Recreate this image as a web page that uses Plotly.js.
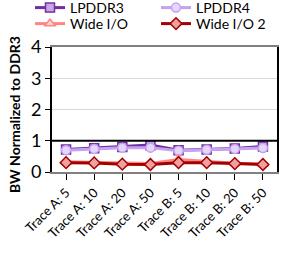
<!DOCTYPE html>
<html><head><meta charset="utf-8">
<script src="https://cdn.plot.ly/plotly-3.0.1.min.js"></script>
<style>html,body{margin:0;padding:0;background:#fff;}#c{width:281px;height:269px;}</style>
</head><body><div id="c"></div>
<script>
const categories = ["Trace A: 5","Trace A: 10","Trace A: 20","Trace A: 50","Trace B: 5","Trace B: 10","Trace B: 20","Trace B: 50"];
const lpddr3 = [0.72, 0.76, 0.80, 0.86, 0.70, 0.72, 0.75, 0.82];
const lpddr4 = [0.70, 0.74, 0.78, 0.78, 0.68, 0.71, 0.74, 0.77];
const wideIO = [0.33, 0.31, 0.27, 0.27, 0.40, 0.33, 0.28, 0.26];
const wideIO2 = [0.30, 0.29, 0.25, 0.24, 0.30, 0.30, 0.27, 0.24];
const yTicks = [0, 1, 2, 3, 4];
const refLevel = 1;
const yTitle = 'BW Normalized to DDR3';

const F = "Lato, 'Liberation Sans', sans-serif";
function tr(name, y, color, fill, sym, leg){
  return {type:'scatter', mode:'lines+markers', name:name, x:categories, y:y, legend:leg,
    line:{color:color, width:3},
    marker:{symbol:sym, size:9, color:fill, line:{color:color, width:1.5}}};
}
const data = [
  tr('LPDDR3', lpddr3, '#7030A0', '#C9A6E6', 'square', 'legend'),
  tr('LPDDR4', lpddr4, '#C6A0F2', '#E6D6FA', 'circle', 'legend2'),
  tr('Wide I/O', wideIO, '#FF8585', '#FFD0D0', 'triangle-up', 'legend3'),
  tr('Wide I/O 2', wideIO2, '#A50000', '#F0A0A0', 'diamond', 'legend4')
];
const legBase = {xref:'container', yref:'container', xanchor:'left', yanchor:'middle',
  font:{size:14, family:F}, tracegroupgap:0, bgcolor:'rgba(0,0,0,0)', borderwidth:0};
const L = (x, yc) => Object.assign({}, legBase, {x:x/281, y:1 - yc/269});
const layout = {
  width:281, height:269,
  margin:{l:52, r:4, t:47, b:97, autoexpand:false},
  paper_bgcolor:'#fff', plot_bgcolor:'#fff',
  font:{family:F, color:'#000'},
  showlegend:true,
  legend:L(30, 8),
  legend2:L(156, 8),
  legend3:L(30, 24),
  legend4:L(156, 24),
  xaxis:{type:'category', range:[-0.5, 7.5], tickangle:-45, tickfont:{size:13, family:F},
    ticks:'outside', ticklen:6, tickcolor:'#000', showline:true, linecolor:'#808080', linewidth:2,
    mirror:true, showgrid:false, fixedrange:true},
  yaxis:{range:[0, 4], tickvals:yTicks, tickfont:{size:18, family:F}, ticks:'outside', ticklen:5,
    tickcolor:'#000', showline:true, linecolor:'#000', linewidth:2, mirror:true,
    showgrid:true, gridcolor:'#D9D9D9', gridwidth:1, zeroline:false},
  annotations:[{text:'<b>' + yTitle + '</b>', xref:'paper', yref:'paper', x:-38/225, y:(172-115)/125,
    xanchor:'center', yanchor:'middle', textangle:-90, showarrow:false, font:{size:14, family:F, color:'#000'}}],
  shapes:[{type:'line', xref:'paper', x0:0, x1:1, yref:'y', y0:refLevel, y1:refLevel, line:{color:'#000', width:2}}]
};
Plotly.newPlot('c', data, layout, {displayModeBar:false, staticPlot:true});
</script></body></html>
